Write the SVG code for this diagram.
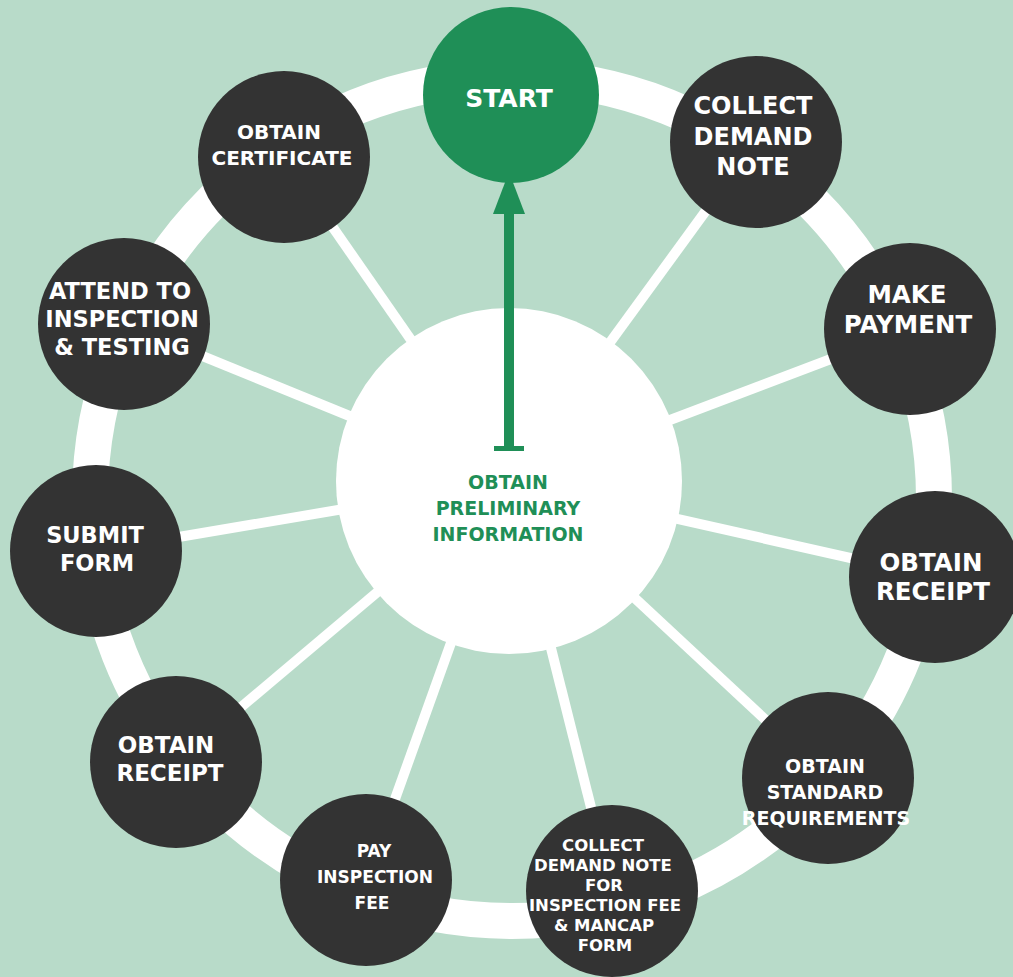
<svg xmlns="http://www.w3.org/2000/svg" width="1013" height="977" viewBox="0 0 1013 977">
<style>
.node{fill:#333333}
.lbl{font-family:"DejaVu Sans","Liberation Sans",sans-serif;font-weight:bold;fill:#ffffff;text-anchor:middle}
.spoke{stroke:#ffffff;stroke-width:10;fill:none}
.glbl{font-family:"DejaVu Sans","Liberation Sans",sans-serif;font-weight:bold;fill:#1f8f57;text-anchor:middle}
</style>
<rect width="1013" height="977" fill="#b8dbc9"/>
<circle cx="512" cy="499" r="422" fill="none" stroke="#ffffff" stroke-width="36"/>
<g id="connectors">
<line class="spoke" x1="509" y1="481" x2="756" y2="142"/>
<line class="spoke" x1="509" y1="481" x2="910" y2="329"/>
<line class="spoke" x1="509" y1="481" x2="935" y2="577"/>
<line class="spoke" x1="509" y1="481" x2="828" y2="778"/>
<line class="spoke" x1="509" y1="481" x2="612" y2="891"/>
<line class="spoke" x1="509" y1="481" x2="366" y2="880"/>
<line class="spoke" x1="509" y1="481" x2="176" y2="762"/>
<line class="spoke" x1="509" y1="481" x2="96" y2="551"/>
<line class="spoke" x1="509" y1="481" x2="124" y2="324"/>
<line class="spoke" x1="509" y1="481" x2="284" y2="157"/>
</g>
<g id="center">
<circle cx="509" cy="481" r="173" fill="#ffffff"/>
<text class="glbl" font-size="19"><tspan x="508" y="489">OBTAIN</tspan><tspan x="508" y="515">PRELIMINARY</tspan><tspan x="508" y="541">INFORMATION</tspan></text>
</g>
<g id="arrow">
<rect x="504" y="210" width="10" height="239" fill="#1f8f57"/>
<rect x="494" y="446" width="30" height="5" fill="#1f8f57"/>
<polygon points="509,172 493,214 525,214" fill="#1f8f57"/>
</g>
<g id="start">
<circle cx="511" cy="95" r="88" fill="#1f8f57"/>
<text class="lbl" font-size="25" x="509" y="107">START</text>
</g>
<g id="collect-demand-note">
<circle class="node" cx="756" cy="142" r="86"/>
<text class="lbl" font-size="24"><tspan x="753" y="114">COLLECT</tspan><tspan x="753" y="145">DEMAND</tspan><tspan x="753" y="175">NOTE</tspan></text>
</g>
<g id="make-payment">
<circle class="node" cx="910" cy="329" r="86"/>
<text class="lbl" font-size="24.5"><tspan x="907" y="303">MAKE</tspan><tspan x="908" y="333">PAYMENT</tspan></text>
</g>
<g id="obtain-receipt-right">
<circle class="node" cx="935" cy="577" r="86"/>
<text class="lbl" font-size="24.5"><tspan x="931" y="571">OBTAIN</tspan><tspan x="933" y="600">RECEIPT</tspan></text>
</g>
<g id="obtain-standard-requirements">
<circle class="node" cx="828" cy="778" r="86"/>
<text class="lbl" font-size="19"><tspan x="825" y="773">OBTAIN</tspan><tspan x="825" y="799">STANDARD</tspan><tspan x="826" y="825">REQUIREMENTS</tspan></text>
</g>
<g id="collect-demand-note-inspection">
<circle class="node" cx="612" cy="891" r="86"/>
<text class="lbl" font-size="16.5"><tspan x="603" y="851">COLLECT</tspan><tspan x="603" y="871">DEMAND NOTE</tspan><tspan x="604" y="891">FOR</tspan><tspan x="605" y="911">INSPECTION FEE</tspan><tspan x="604" y="931">&amp; MANCAP</tspan><tspan x="605" y="951">FORM</tspan></text>
</g>
<g id="pay-inspection-fee">
<circle class="node" cx="366" cy="880" r="86"/>
<text class="lbl" font-size="17"><tspan x="374" y="857">PAY</tspan><tspan x="375" y="883">INSPECTION</tspan><tspan x="372" y="909">FEE</tspan></text>
</g>
<g id="obtain-receipt-left">
<circle class="node" cx="176" cy="762" r="86"/>
<text class="lbl" font-size="23"><tspan x="166" y="753">OBTAIN</tspan><tspan x="170" y="781">RECEIPT</tspan></text>
</g>
<g id="submit-form">
<circle class="node" cx="96" cy="551" r="86"/>
<text class="lbl" font-size="22.5"><tspan x="95" y="543">SUBMIT</tspan><tspan x="97" y="571">FORM</tspan></text>
</g>
<g id="attend-inspection-testing">
<circle class="node" cx="124" cy="324" r="86"/>
<text class="lbl" font-size="22.5"><tspan x="120" y="299">ATTEND TO</tspan><tspan x="122" y="327">INSPECTION</tspan><tspan x="122" y="355">&amp; TESTING</tspan></text>
</g>
<g id="obtain-certificate">
<circle class="node" cx="284" cy="157" r="86"/>
<text class="lbl" font-size="20"><tspan x="279" y="139">OBTAIN</tspan><tspan x="282" y="165">CERTIFICATE</tspan></text>
</g>
</svg>
